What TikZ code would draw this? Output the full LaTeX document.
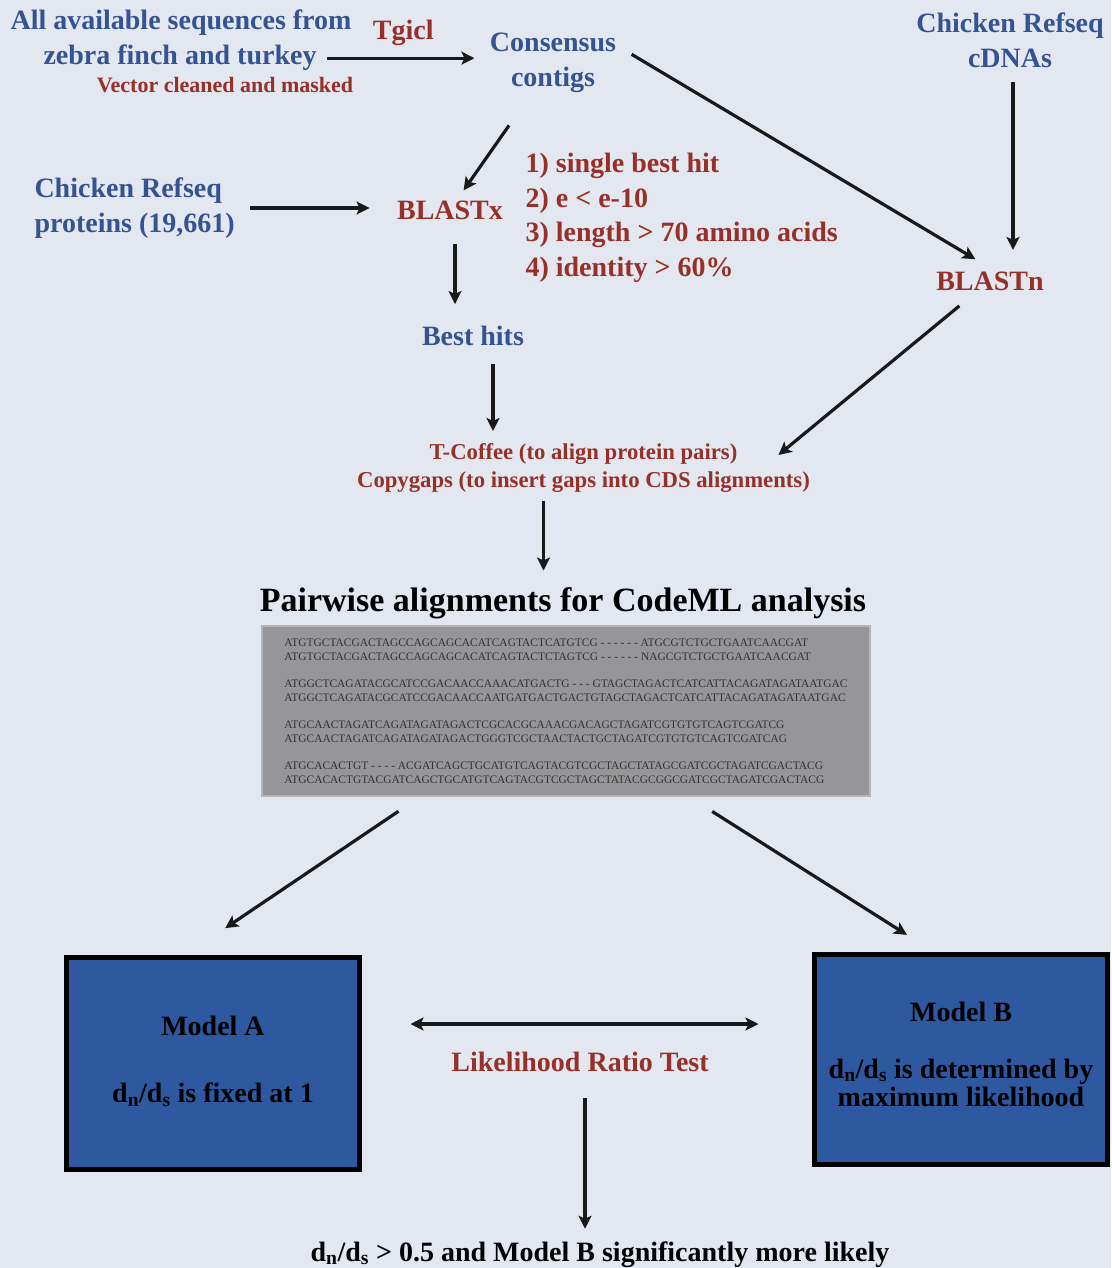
\documentclass[tikz,border=0pt]{standalone}
\usepackage{fontspec}
\setmainfont{Liberation Serif}
\usepackage{xcolor}
\usepackage{tikz}
\usetikzlibrary{arrows.meta, positioning, calc}

\definecolor{bgcol}{RGB}{227,231,240}
\definecolor{txtblue}{RGB}{52,84,145}
\definecolor{txtred}{RGB}{150,48,40}
\definecolor{modelblue}{RGB}{46,88,160}
\definecolor{seqgray}{RGB}{150,150,153}

\begin{document}
\begin{tikzpicture}[
    x=1pt, y=-1pt,
    bluetext/.style={text=txtblue, font=\fontsize{28}{35}\selectfont\bfseries, align=center},
    redtext/.style={text=txtred, font=\fontsize{28}{35}\selectfont\bfseries, align=center},
    redsmall/.style={text=txtred, font=\fontsize{22}{28}\selectfont\bfseries, align=center},
    blacktext/.style={text=black, font=\fontsize{28}{35}\selectfont\bfseries, align=center},
    modelbox/.style={rectangle, draw=black, line width=5pt, fill=modelblue, text=black,
                     minimum width=293pt, minimum height=212pt, align=center,
                     font=\fontsize{28}{35}\selectfont\bfseries},
    seqbox/.style={rectangle, fill=seqgray, draw=seqgray!70!white, line width=1.5pt,
                   minimum width=608pt, minimum height=170pt, align=left,
                   font=\fontsize{11.45}{14}\selectfont, text=black!80},
    arrowstyle/.style={-{Stealth[length=13pt, width=13pt, inset=3pt]}, line width=3.2pt, draw=black!90},
]

%% Canvas
\fill[bgcol] (0,0) rectangle (1111,1268);
\useasboundingbox (0,0) rectangle (1111,1268);

%% Top part: contigs, BLASTx and BLASTn
\node[bluetext, anchor=base] (allseq) at (181,30) {All available sequences from};
\node[bluetext, anchor=base] (zebra) at (180,65) {zebra finch and turkey};
\node[redsmall, anchor=base] (vector) at (225,93) {Vector cleaned and masked};
\node[bluetext] (contigs) at (553,62.5) {Consensus\\contigs};
\node[bluetext] (cdnas) at (1010,40.5) {Chicken Refseq\\cDNAs};
\node[bluetext, align=left, anchor=west] (proteins) at (31,208) {Chicken Refseq\\proteins (19,661)};
\node[redtext, anchor=base] (blastx) at (450,219) {BLASTx};
\node[redtext, align=left, anchor=north west, font=\fontsize{28}{34.5}\selectfont\bfseries] (criteria) at (522,150)
    {1) single best hit\\2) e < e-10\\3) length > 70 amino acids\\4) identity > 60\%};
\node[redtext, anchor=base] (blastn) at (990,290) {BLASTn};
\node[bluetext, anchor=base] (besthits) at (473,345) {Best hits};
\node[redsmall, font=\fontsize{22.7}{28}\selectfont\bfseries] (tcoffee) at (583.5,468)
    {T-Coffee (to align protein pairs)\\Copygaps (to insert gaps into CDS alignments)};

%% Alignments
\node[blacktext, font=\fontsize{34}{40}\selectfont\bfseries, anchor=base] (title) at (563,611)
    {Pairwise alignments for CodeML analysis};
\node[seqbox] (align) at (566,711) {%
ATGTGCTACGACTAGCCAGCAGCACATCAGTACTCATGTCG - - - - - - ATGCGTCTGCTGAATCAACGAT\\
ATGTGCTACGACTAGCCAGCAGCACATCAGTACTCTAGTCG - - - - - - NAGCGTCTGCTGAATCAACGAT\\[13pt]
ATGGCTCAGATACGCATCCGACAACCAAACATGACTG - - - GTAGCTAGACTCATCATTACAGATAGATAATGAC\\
ATGGCTCAGATACGCATCCGACAACCAATGATGACTGACTGTAGCTAGACTCATCATTACAGATAGATAATGAC\\[13pt]
ATGCAACTAGATCAGATAGATAGACTCGCACGCAAACGACAGCTAGATCGTGTGTCAGTCGATCG\\
ATGCAACTAGATCAGATAGATAGACTGGGTCGCTAACTACTGCTAGATCGTGTGTCAGTCGATCAG\\[13pt]
ATGCACACTGT - - - - ACGATCAGCTGCATGTCAGTACGTCGCTAGCTATAGCGATCGCTAGATCGACTACG\\
ATGCACACTGTACGATCAGCTGCATGTCAGTACGTCGCTAGCTATACGCGGCGATCGCTAGATCGACTACG};

%% Models
\node[modelbox] (modela) at (213,1063.5)
    {Model A\\[32pt]d\textsubscript{n}/d\textsubscript{s} is fixed at 1\\[-27pt]\mbox{}};
\node[modelbox, minimum height=210pt, font=\fontsize{28}{28}\selectfont\bfseries] (modelb) at (961,1059.5)
    {Model B\\[29pt]d\textsubscript{n}/d\textsubscript{s} is determined by\\maximum likelihood\\[-17pt]\mbox{}};
\node[redtext, anchor=base] (lrt) at (580,1071) {Likelihood Ratio Test};
\node[blacktext, anchor=base] (result) at (600,1261)
    {d\textsubscript{n}/d\textsubscript{s} > 0.5 and Model B significantly more likely};

%% Arrows
\draw[arrowstyle, shorten <=7pt, shorten >=12pt] (zebra.east) -- (zebra.east -| contigs.west)
    node[midway, above=8pt, redtext] (tgicl) {Tgicl};
\draw[arrowstyle, shorten <=36pt, shorten >=8pt] (contigs) -- (blastx);
\draw[arrowstyle, shorten <=12pt, shorten >=24pt] (proteins.east) -- (proteins.east -| blastx.west);
\draw[arrowstyle, shorten <=10pt, shorten >=18pt] ([xshift=3pt]cdnas.south) -- ([xshift=3pt]cdnas.south |- blastn.north);
\draw[arrowstyle, shorten <=14pt, shorten >=17pt] (contigs.13) -- (blastn.north);
\draw[arrowstyle, shorten <=21pt, shorten >=18pt] ([xshift=5pt]blastx.south) -- ([xshift=5pt]blastx.south |- besthits.north);
\draw[arrowstyle, shorten <=15pt, shorten >=9pt] ([xshift=20pt]besthits.south) -- ([xshift=20pt]besthits.south |- tcoffee.north);
\draw[arrowstyle, shorten <=19pt] (blastn.-141) -- ([xshift=-35pt, yshift=13pt]tcoffee.east);
\draw[arrowstyle, shorten <=5pt, shorten >=13pt] ([xshift=-40pt]tcoffee.south) -- ([xshift=-40pt]tcoffee.south |- title.north);
\draw[arrowstyle, shorten <=26pt, shorten >=48pt] ([xshift=-146pt]align.south) -- ([xshift=-27.6pt]modela.north);
\draw[arrowstyle, shorten <=27.5pt, shorten >=32pt] ([xshift=123pt]align.south) -- ([xshift=-27pt]modelb.north);
\draw[arrowstyle, {Stealth[length=13pt, width=13pt, inset=3pt]}-{Stealth[length=13pt, width=13pt, inset=3pt]}, shorten <=48.5pt, shorten >=53.5pt]
    ([yshift=39.5pt]modela.east) -- ([yshift=39.5pt]modela.east -| modelb.west);
\draw[arrowstyle, shorten <=23pt, shorten >=9pt] ([xshift=5pt]lrt.south) -- ([xshift=5pt]lrt.south |- result.north);

\end{tikzpicture}
\end{document}
